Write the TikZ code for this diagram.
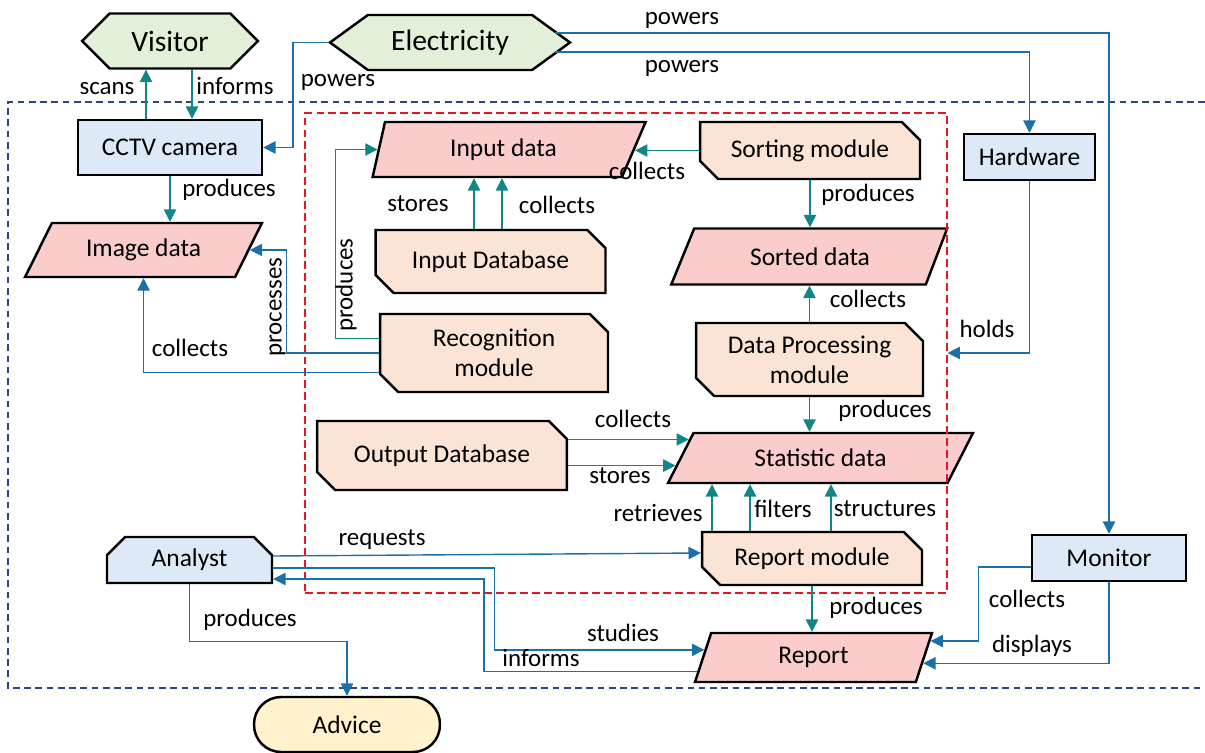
\documentclass[tikz,border=0pt]{standalone}
\usepackage{fontspec}
\setmainfont{Carlito}
\usetikzlibrary{arrows.meta, shapes.geometric, shapes.misc, shapes.symbols}

\definecolor{actgreen}{RGB}{226,239,217}
\definecolor{devblue}{RGB}{221,233,246}
\definecolor{modbeige}{RGB}{251,228,213}
\definecolor{datapink}{RGB}{250,204,204}
\definecolor{resyellow}{RGB}{255,242,204}
\definecolor{linkteal}{RGB}{18,134,134}
\definecolor{linkblue}{RGB}{28,112,168}
\definecolor{sysblue}{RGB}{47,68,128}
\definecolor{corered}{RGB}{228,24,36}

\tikzset{
  box/.style={draw=black, line width=1.4pt, inner sep=1pt, align=center,
    font=\fontsize{14.5}{17}\selectfont},
  actor/.style={box, signal, signal to=west and east, fill=actgreen,
    font=\fontsize{16.8}{19}\selectfont},
  device/.style={box, rectangle, fill=devblue},
  module/.style={box, chamfered rectangle, chamfered rectangle corners={north east,south west},
    chamfered rectangle xsep=0.18cm, chamfered rectangle ysep=0.18cm, fill=modbeige},
  data/.style={box, trapezium, trapezium stretches body, fill=datapink},
  link/.style={draw=linkteal, line width=0.8pt, -{Triangle[length=7pt,width=7pt]}},
  feed/.style={link, draw=linkblue},
  lbl/.style={inner sep=0pt, text height=0.72em, text depth=0.2em,
    font=\fontsize{14.2}{16}\selectfont},
}

\begin{document}
\begin{tikzpicture}[x=0.02cm, y=-0.02cm]
\useasboundingbox (0,0) rectangle (1205,753);
% system boundary (open on the right)
\draw[sysblue, line width=0.6pt, dash pattern=on 3.8pt off 2.6pt] (1205,102) -- (8,102) -- (8,688) -- (1205,688);

% outside world
\node[actor, signal pointer angle=90, minimum width=3.52cm, minimum height=1.1cm] (visitor) at (170,41) {Visitor};
\node[actor, signal pointer angle=72, minimum width=4.8cm, minimum height=1.1cm] (elec) at (450,42.5) {Electricity};
\node[box, rounded corners=0.54cm, fill=resyellow, minimum width=3.72cm, minimum height=1.1cm] (advice) at (347,724.5) {Advice};

% devices and people
\node[device, minimum width=3.68cm, minimum height=1.1cm] (cctv) at (170,147.5) {CCTV camera};
\node[device, minimum width=2.62cm, minimum height=0.92cm] (hw) at (1029.5,157) {Hardware};
\node[device, minimum width=3.08cm, minimum height=0.92cm] (monitor) at (1109,558) {Monitor};
\node[device, chamfered rectangle, chamfered rectangle corners={north west,north east},
  chamfered rectangle xsep=0.18cm, chamfered rectangle ysep=0.18cm,
  minimum width=3.3cm, minimum height=0.92cm] (analyst) at (189.5,560) {Analyst};

% data
\node[data, trapezium left angle=43.5, trapezium right angle=136.5, minimum width=4.74cm, minimum height=1.08cm] (img) at (143.5,250) {Image data};
\node[data, trapezium left angle=64, trapezium right angle=133, minimum width=5.46cm, minimum height=1.1cm] (indata) at (503.5,149.5) {Input data};
\node[data, trapezium left angle=43, trapezium right angle=135, minimum width=5.52cm, minimum height=1.12cm] (sorted) at (810,256.5) {Sorted data};
\node[data, trapezium left angle=40, trapezium right angle=140, minimum width=6.1cm, minimum height=1cm] (stat) at (820.5,458) {Statistic data};
\node[data, trapezium left angle=56, trapezium right angle=124, minimum width=4.74cm, minimum height=0.98cm] (report) at (813.5,657.5) {Report};

% modules and stores
\node[module, minimum width=4.4cm, minimum height=1.14cm] (sort) at (810,150.5) {Sorting module};
\node[module, minimum width=4.6cm, minimum height=1.26cm] (indb) at (490.5,261.5) {Input Database};
\node[module, minimum width=4.56cm, minimum height=1.56cm] (rec) at (494,353) {Recognition\\module};
\node[module, minimum width=4.54cm, minimum height=1.46cm] (dp) at (809.5,359.5) {Data Processing\\module};
\node[module, minimum width=5cm, minimum height=1.38cm] (outdb) at (442,455.5) {Output Database};
\node[module, minimum width=4.4cm, minimum height=1.06cm] (rm) at (812,558.5) {Report module};

% core software boundary
\node[draw=corered, line width=0.75pt, dash pattern=on 4.5pt off 2.3pt, minimum width=12.84cm, minimum height=9.6cm] (core) at (626,353) {};

% connectors
\draw[link] ([xshift=-0.48cm]cctv.north) -- ([xshift=-0.48cm]cctv.north |- visitor.south);
\draw[link] ([xshift=0.44cm]visitor.south) -- ([xshift=0.44cm]visitor.south |- cctv.north);
\draw[feed] (elec.west) -- ++(-35,0) |- (cctv.east);
\draw[feed] ([xshift=-0.34cm, yshift=0.19cm]elec.east) -| (monitor.north);
\draw[feed] ([xshift=-0.34cm, yshift=-0.19cm]elec.east) -| (hw.north);
\draw[link] (cctv.south) -- (cctv.south |- img.north);
\draw[feed] (rec.west) -- ++(-92,0) |- (img.east);
\draw[feed] ([yshift=-0.39cm]rec.west) -| (img.south);
\draw[link] ([yshift=0.29cm]rec.west) -- ++(-43,0) |- (indata.west);
\draw[link] ([xshift=-0.33cm]indb.north) -- ([xshift=-0.33cm]indb.north |- indata.south);
\draw[link] ([xshift=0.23cm]indb.north) -- ([xshift=0.23cm]indb.north |- indata.south);
\draw[link] (sort.west) -- (sort.west -| indata.east);
\draw[link] (sort.south) -- (sort.south |- sorted.north);
\draw[link] (dp.north) -- (dp.north |- sorted.south);
\draw[feed] (hw.south) |- (core.east);
\draw[link] (dp.south) -- (dp.south |- stat.north);
\draw[link] (outdb.east |- stat.172) -- (stat.172);
\draw[link] (outdb.east |- stat.183) -- (stat.183);
\draw[link] ([xshift=-2cm]rm.north) -- ([xshift=-2cm]rm.north |- stat.south);
\draw[link] ([xshift=-1.24cm]rm.north) -- ([xshift=-1.24cm]rm.north |- stat.south);
\draw[link] ([xshift=0.38cm]rm.north) -- ([xshift=0.38cm]rm.north |- stat.south);
\draw[feed] ([yshift=0.08cm]analyst.east) -- ([yshift=0.11cm]rm.west);
\draw[feed] ([yshift=-0.16cm]analyst.east) -- ++(221,0) |- (report.176);
\draw[feed] (report.187) -| ([xshift=4.22cm, yshift=-0.38cm]analyst.east) -- ([yshift=-0.38cm]analyst.east);
\draw[feed] (analyst.south) -- ++(0,57) -| (advice.north);
\draw[link] (rm.south) -- (rm.south |- report.north);
\draw[feed] ([yshift=-0.18cm]monitor.west) -- ++(-52,0) |- (report.8);
\draw[feed] (monitor.south) |- (report.357);

% labels
\node[lbl] (l-scans) at (107,90) {scans};
\node[lbl] (l-informs1) at (235,90) {informs};
\node[lbl] (l-powers1) at (338,82) {powers};
\node[lbl] (l-powers2) at (682,20) {powers};
\node[lbl] (l-powers3) at (682,68) {powers};
\node[lbl] (l-produces1) at (229,192) {produces};
\node[lbl, rotate=90] (l-processes) at (277,307) {processes};
\node[lbl, rotate=90] (l-produces2) at (348,285) {produces};
\node[lbl] (l-collects1) at (190,352) {collects};
\node[lbl] (l-stores1) at (418,207) {stores};
\node[lbl] (l-collects2) at (557,209) {collects};
\node[lbl] (l-collects3) at (647,175) {collects};
\node[lbl] (l-produces3) at (868,197) {produces};
\node[lbl] (l-collects4) at (868,303) {collects};
\node[lbl] (l-holds) at (987,333) {holds};
\node[lbl] (l-produces4) at (885,413) {produces};
\node[lbl] (l-collects5) at (633,423) {collects};
\node[lbl] (l-stores2) at (620,479) {stores};
\node[lbl] (l-retrieves) at (658,517) {retrieves};
\node[lbl] (l-filters) at (783,513) {filters};
\node[lbl] (l-structures) at (885,512) {structures};
\node[lbl] (l-requests) at (382,541) {requests};
\node[lbl] (l-studies) at (623,637) {studies};
\node[lbl] (l-informs2) at (541,662) {informs};
\node[lbl] (l-produces5) at (250,622) {produces};
\node[lbl] (l-produces6) at (876,610) {produces};
\node[lbl] (l-collects6) at (1027,603) {collects};
\node[lbl] (l-displays) at (1032,648) {displays};
\end{tikzpicture}
\end{document}
